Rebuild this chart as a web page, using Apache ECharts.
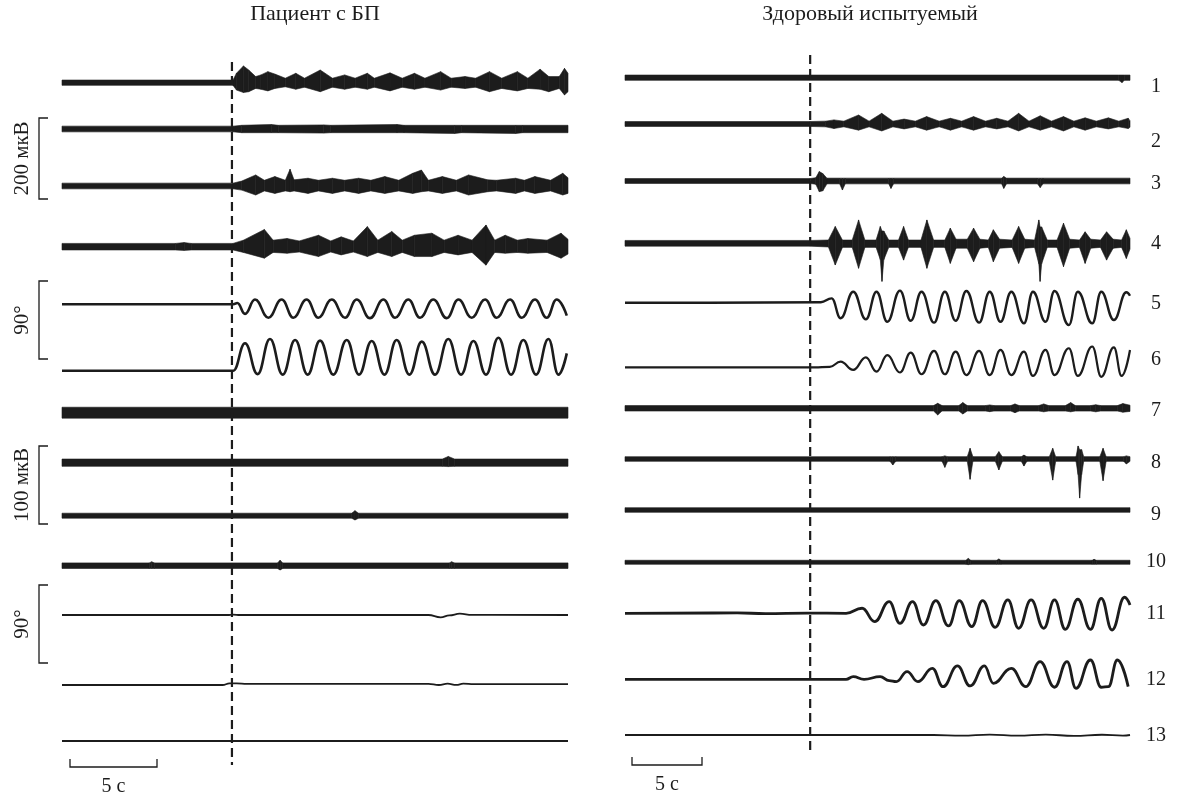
<!DOCTYPE html>
<html><head><meta charset="utf-8">
<script src="https://cdn.jsdelivr.net/npm/echarts@6/dist/echarts.min.js"></script>
<style>html,body{margin:0;padding:0;background:#fff}#c{width:1181px;height:796px}</style>
</head><body><div id="c"></div>
<script>
// ---------- time ----------
const leftDuration = 29;   // s, patient panel
const rightDuration = 36;  // s, healthy subject panel
const leftOnset = 9.74;    // s, onset of movement (dashed line)
const rightOnset = 13.2;

const titles = ['Пациент с БП', 'Здоровый испытуемый'];
const traceNumbers = ['1','2','3','4','5','6','7','8','9','10','11','12','13'];
const scaleLabels = ['200 мкВ', '90°', '100 мкВ', '90°'];
const timeScaleLabel = '5 с';

// ---------- EMG envelopes: [t (s), upper (µV), lower (µV)] ----------
const pdEmg1 = [[0,6.5,-6.5],[9.8,6.5,-6.5],[10.0,23,-18],[10.4,41,-24],[10.7,31,-22],[11.1,15,-14],[11.4,19,-16],[11.8,27,-20],[12.2,21,-14],[12.8,11,-10],[13.4,23,-16],[13.9,11,-11],[14.8,31,-22],[15.5,11,-11],[16.2,19,-16],[16.8,11,-11],[17.5,23,-16],[17.9,11,-11],[18.8,24,-20],[19.5,11,-11],[20.2,23,-16],[20.8,11,-11],[21.7,27,-18],[22.3,11,-11],[23.1,15,-14],[23.7,11,-11],[24.5,27,-22],[25.2,11,-14],[26.1,27,-20],[26.7,11,-14],[27.4,33,-16],[27.9,15,-22],[28.5,15,-14],[28.8,35,-30],[29.0,23,-22]];
const pdEmg2 = [[0,7,-7],[9.8,7,-7],[10.3,9,-9],[12.0,11,-9],[12.4,9,-9],[15.0,10,-10],[15.4,9,-9],[19.2,11,-9],[19.6,9,-9],[22.5,9,-11],[22.9,9,-9],[26.0,9,-11],[26.4,9,-9],[29,9,-9]];
const pdEmg3 = [[0,7,-7],[9.8,7,-7],[10.3,12,-10],[11.1,27,-22],[11.6,14,-12],[12.2,23,-18],[12.8,14,-12],[13.07,41,-14],[13.3,15,-12],[14.1,19,-18],[14.7,14,-12],[15.5,19,-18],[16.2,14,-12],[17.0,19,-18],[17.7,14,-12],[18.5,23,-18],[19.3,14,-12],[20.1,31,-18],[20.6,39,-14],[21.0,14,-12],[21.8,23,-18],[22.6,14,-12],[23.3,27,-22],[24.4,15,-14],[24.9,14,-12],[26.0,19,-18],[26.5,14,-12],[27.1,23,-18],[28.0,14,-12],[28.7,31,-22],[29,20,-18]];
const pdEmg4 = [[0,8,-8],[6.5,8,-8],[7.0,10,-9],[7.4,8,-8],[9.8,8,-8],[10.4,16,-14],[11.6,42,-28],[12.1,16,-14],[12.9,20,-16],[13.6,14,-13],[14.7,28,-24],[15.4,14,-13],[16.0,24,-20],[16.7,14,-13],[17.5,49,-24],[18.1,16,-14],[18.9,37,-24],[19.5,16,-14],[20.2,28,-24],[21.2,33,-24],[21.9,16,-14],[22.7,28,-20],[23.5,16,-14],[24.3,53,-45],[24.8,16,-14],[25.4,28,-16],[26.1,16,-14],[26.7,20,-16],[27.8,16,-14],[28.6,33,-28],[29,18,-18]];
const pdEmg7 = [[0,7,-7],[29,7,-7]];
const pdEmg8 = [[0,4.7,-4.7],[21.8,4.7,-4.7],[22.14,8,-5],[22.5,4.7,-4.7],[29,4.7,-4.7]];
const pdEmg9 = [[0,3.2,-3.2],[16.6,3.2,-3.2],[16.79,6.4,-5.5],[17.0,3.2,-3.2],[29,3.2,-3.2]];
const pdEmg10 = [[0,3.6,-3.6],[5.0,3.6,-3.6],[5.14,5,-3.6],[5.3,3.6,-3.6],[12.35,3.6,-3.6],[12.5,7,-5.5],[12.65,3.6,-3.6],[22.2,3.6,-3.6],[22.33,5,-3.6],[22.5,3.6,-3.6],[29,3.6,-3.6]];

const hEmg1 = [[0,6.5,-6.5],[35.2,6.5,-6.5],[35.43,6.5,-12],[35.6,6.5,-6.5],[36,6.5,-6.5]];
const hEmg2 = [[0,6,-6],[13.2,6,-6],[14.3,7,-7],[14.9,10,-11],[15.6,7,-7],[16.65,22,-15],[17.4,7,-7],[18.3,26,-17],[19.1,7,-7],[19.9,12,-12],[20.7,7,-7],[21.5,18,-15],[22.4,7,-7],[23.2,14,-15],[24.0,7,-7],[24.85,18,-15],[25.7,7,-7],[26.5,14,-12],[27.3,7,-7],[28.06,26,-17],[28.8,7,-7],[29.6,20,-15],[30.4,7,-7],[31.26,18,-17],[32.0,7,-7],[32.8,15,-15],[33.6,7,-7],[34.46,15,-12],[35.2,7,-7],[35.87,14,-11],[36,8,-8]];
const hEmg3 = [[0,6,-6],[13.2,6,-6],[13.6,8,-8],[13.85,23,-26],[14.1,18,-24],[14.4,7,-7],[15.3,7,-7],[15.5,7,-22],[15.7,7,-7],[18.8,7,-7],[18.96,7,-18],[19.15,7,-7],[26.85,7,-7],[27.0,11,-18],[27.2,7,-7],[29.4,7,-7],[29.6,7,-16],[29.8,7,-7],[36,7,-7]];
const hEmg4 = [[0,7,-7],[13.2,7,-7],[14.5,8,-9],[14.99,41,-53],[15.5,8,-10],[16.2,8,-10],[16.65,57,-61],[17.1,8,-10],[17.9,8,-10],[18.2,41,-40],[18.32,30,-93],[18.45,30,-40],[18.8,8,-10],[19.5,8,-10],[19.86,41,-41],[20.2,8,-10],[21.1,8,-10],[21.52,57,-61],[22.0,8,-10],[22.8,8,-10],[23.19,37,-49],[23.6,10,-12],[24.4,10,-12],[24.85,37,-45],[25.3,10,-12],[25.9,8,-10],[26.26,33,-45],[26.7,10,-12],[27.6,8,-10],[28.06,41,-49],[28.5,10,-12],[29.2,8,-10],[29.5,57,-50],[29.59,40,-93],[29.7,40,-50],[30.1,8,-10],[30.8,8,-10],[31.26,49,-57],[31.7,10,-12],[32.4,8,-10],[32.8,28,-49],[33.2,10,-12],[33.9,8,-10],[34.33,28,-41],[34.8,10,-12],[35.4,8,-10],[35.74,33,-37],[36,12,-14]];
const hEmg7 = [[0,3.5,-3.5],[22.0,3.5,-3.5],[22.29,6.4,-8.5],[22.6,3.5,-3.5],[23.8,3.5,-3.5],[24.08,7.3,-7.3],[24.4,3.5,-3.5],[25.7,3.5,-3.5],[26.0,4.3,-4.3],[26.3,3.5,-3.5],[27.5,3.5,-3.5],[27.8,5.6,-5.6],[28.1,3.5,-3.5],[29.5,3.5,-3.5],[29.85,5.6,-4.5],[30.2,3.5,-3.5],[31.4,3.5,-3.5],[31.77,7.3,-4.5],[32.1,3.5,-3.5],[33.2,3.5,-3.5],[33.56,4.5,-4.5],[33.9,3.5,-3.5],[35.1,3.5,-3.5],[35.49,6,-5],[36,4,-4]];
const hEmg8 = [[0,3,-3],[18.9,3,-3],[19.09,3,-7.7],[19.3,3,-3],[22.6,3,-3],[22.8,4,-10.7],[23.0,3,-3],[24.4,3,-3],[24.6,13.7,-26],[24.8,3,-3],[26.4,3,-3],[26.65,9.4,-14],[26.9,3,-3],[28.25,3,-3],[28.44,5,-9],[28.65,3,-3],[30.25,3,-3],[30.49,13.7,-27],[30.7,3,-3],[32.15,3,-3],[32.3,16.7,-20],[32.41,12,-50],[32.55,12,-20],[32.7,3,-3],[33.85,3,-3],[34.08,13.7,-27.8],[34.3,3,-3],[35.55,3,-3],[35.74,4,-6.4],[36,3,-3]];
const hEmg9 = [[0,3,-3],[36,3,-3]];
const hEmg10 = [[0,2.6,-2.6],[24.3,2.6,-2.6],[24.47,5,-3],[24.65,2.6,-2.6],[26.5,2.6,-2.6],[26.65,4.3,-2.6],[26.8,2.6,-2.6],[33.3,2.6,-2.6],[33.44,3.8,-2.6],[33.6,2.6,-2.6],[36,2.6,-2.6]];

// ---------- joint angles: [t (s), angle (deg)] ----------
const pdAngle5 = [[0,0],[5,0],[9.82,0],[10.05,1.5],[10.49,-11],[11.06,5.5],[11.83,-15.5],[12.59,5.5],[13.26,-15.5],[14.02,5.5],[14.69,-15.5],[15.46,5.5],[16.22,-15.5],[16.89,5.5],[17.65,-16],[18.42,5.5],[19.09,-15.5],[19.85,5.5],[20.52,-15.5],[21.28,5.5],[22.05,-16],[22.72,5.5],[23.48,-15.5],[24.25,5.5],[24.91,-15.5],[25.68,5.5],[26.35,-15.5],[27.11,5.5],[27.78,-15.5],[28.35,5.5],[28.93,-13]];
const pdAngle6 = [[0,0],[5,0],[9.82,0],[10.49,31.6],[11.21,-3.9],[11.92,36.6],[12.65,-4.5],[13.36,35.4],[14.08,-4.5],[14.79,34.7],[15.55,-4.5],[16.32,35.4],[17.02,-4.5],[17.75,34.3],[18.48,-4.5],[19.18,35.4],[19.91,-4.5],[20.62,33.5],[21.38,-4.5],[22.14,36.6],[22.87,-4.5],[23.58,34.3],[24.30,-4.5],[25.01,38.1],[25.74,-4.5],[26.44,35.4],[27.17,-4.5],[27.88,36.6],[28.45,-4.5],[28.93,20]];
const pdAngle11 = [[0,0],[9.5,0],[9.8,0.4],[10.2,0],[21.0,0],[21.7,-2.8],[22.2,-0.5],[22.8,1.5],[23.5,0.2],[29,0]];
const pdAngle12 = [[0,0],[9.2,0],[9.6,1.8],[10.0,1.8],[10.6,1.2],[21.0,1.2],[21.6,0],[22.1,1.5],[22.6,0.2],[23.0,1.5],[23.6,1.0],[29,1.0]];
const pdAngle13 = [[0,0],[29,0]];

const hAngle5 = [[0,0],[6,0],[13.96,0.5],[14.73,5],[15.37,-18],[16.27,12.7],[17.17,-19.2],[17.93,12.7],[18.7,-22],[19.6,13.9],[20.37,-20.8],[21.14,12.7],[22.03,-23],[22.8,12.7],[23.57,-20.8],[24.34,13.5],[25.24,-23],[26.0,12.7],[26.77,-22],[27.54,12.7],[28.44,-23.9],[29.08,12.7],[29.98,-22],[30.62,13.5],[31.64,-25.8],[32.28,12.7],[33.31,-23.9],[33.95,12.7],[34.85,-20],[35.74,12],[36,8]];
const hAngle6 = [[0,0],[13.5,0],[14.6,0.5],[15.37,6.5],[16.27,-3],[17.17,11.5],[17.93,-5],[18.7,14],[19.6,-6],[20.37,17],[21.14,-8],[22.03,19],[22.8,-8],[23.57,18],[24.34,-9],[25.24,19],[26.0,-9],[26.77,20],[27.54,-9],[28.44,18],[29.08,-10],[29.98,20],[30.62,-9],[31.64,22],[32.28,-10],[33.31,24],[33.95,-11],[34.85,23],[35.4,-10],[36,20]];
const hAngle11 = [[0,0],[8,0.4],[10,-0.3],[13,0.3],[15.76,0],[16.9,5.8],[17.8,-9.6],[18.83,13.5],[19.6,-11.6],[20.5,13.5],[21.27,-13.5],[22.16,14.6],[23.06,-14.6],[23.83,14.6],[24.72,-15.4],[25.49,14.6],[26.39,-16.2],[27.29,15.4],[28.06,-17.3],[28.95,15.4],[29.85,-17.3],[30.62,15.4],[31.39,-18.5],[32.28,16.2],[33.18,-18.5],[33.95,17.3],[34.72,-19.3],[35.61,18.5],[36,9.6]];
const hAngle12 = [[0,0],[15.76,0],[16.27,3],[17.04,0],[18.19,3],[18.83,-1.5],[19.34,-2.7],[20.11,8.9],[20.88,-2.7],[21.91,12.7],[22.67,-8.5],[23.7,15.4],[24.6,-7.7],[25.62,15.4],[26.26,-4.6],[27.54,12.7],[28.57,-8.5],[29.59,20.4],[30.62,-9.2],[31.51,20.4],[32.15,-10.4],[33.18,22.3],[33.95,-9.2],[34.46,-8.5],[35.1,22.3],[35.87,-8.5]];
const hAngle13 = [[0,0],[22,0],[24,-0.8],[26,0.5],[28,-0.8],[30,0.4],[32,-1],[34,0.3],[35.5,-0.8],[36,0]];

// ---------- layout ----------
const INK = '#1c1c1c';
const FONT = '"Liberation Serif", "DejaVu Serif", serif';
const EMG_HI = 2.44, EMG_LO = 1.28, ANG = 1.154; // units per pixel
const panels = {
  L: {left: 62, width: 506, dur: leftDuration, onset: leftOnset, top: 62, bottom: 765},
  R: {left: 625, width: 505, dur: rightDuration, onset: rightOnset, top: 55, bottom: 752}
};
const traces = [
  {p:'L', cy:82.7, k:'emg', u:EMG_HI, d:pdEmg1},
  {p:'L', cy:129, k:'emg', u:EMG_HI, d:pdEmg2},
  {p:'L', cy:186, k:'emg', u:EMG_HI, d:pdEmg3},
  {p:'L', cy:246.7, k:'emg', u:EMG_HI, d:pdEmg4},
  {p:'L', cy:304.3, k:'ang', u:ANG, d:pdAngle5, w:2.6},
  {p:'L', cy:370.7, k:'ang', u:ANG, d:pdAngle6, w:2.6},
  {p:'L', cy:412.7, k:'emg', u:EMG_LO, d:pdEmg7},
  {p:'L', cy:462.7, k:'emg', u:EMG_LO, d:pdEmg8},
  {p:'L', cy:515.7, k:'emg', u:EMG_LO, d:pdEmg9},
  {p:'L', cy:565.7, k:'emg', u:EMG_LO, d:pdEmg10},
  {p:'L', cy:615, k:'ang', u:ANG, d:pdAngle11, w:1.8},
  {p:'L', cy:685, k:'ang', u:ANG, d:pdAngle12, w:1.8},
  {p:'L', cy:741, k:'ang', u:ANG, d:pdAngle13, w:1.8},
  {p:'R', cy:77.7, k:'emg', u:EMG_HI, d:hEmg1},
  {p:'R', cy:124, k:'emg', u:EMG_HI, d:hEmg2},
  {p:'R', cy:181, k:'emg', u:EMG_HI, d:hEmg3},
  {p:'R', cy:243.3, k:'emg', u:EMG_HI, d:hEmg4},
  {p:'R', cy:302.7, k:'ang', u:ANG, d:hAngle5, w:2.4},
  {p:'R', cy:367.3, k:'ang', u:ANG, d:hAngle6, w:2.2},
  {p:'R', cy:408.3, k:'emg', u:EMG_LO, d:hEmg7},
  {p:'R', cy:459, k:'emg', u:EMG_LO, d:hEmg8},
  {p:'R', cy:510, k:'emg', u:EMG_LO, d:hEmg9},
  {p:'R', cy:562.3, k:'emg', u:EMG_LO, d:hEmg10},
  {p:'R', cy:613.3, k:'ang', u:ANG, d:hAngle11, w:2.8},
  {p:'R', cy:679.3, k:'ang', u:ANG, d:hAngle12, w:2.8},
  {p:'R', cy:735, k:'ang', u:ANG, d:hAngle13, w:1.8}
];
const numberY = [87,142,184,244,304,360,411,463,515,562,614,680,736];

const grid = [], xAxis = [], yAxis = [], series = [];
traces.forEach((tr, i) => {
  const P = panels[tr.p];
  grid.push({left: P.left, width: P.width, top: tr.cy - 50, height: 100});
  xAxis.push({gridIndex: i, type: 'value', min: 0, max: P.dur, show: false});
  yAxis.push({gridIndex: i, type: 'value', min: -50 * tr.u, max: 50 * tr.u, show: false});
  if (tr.k === 'emg') {
    const arr = tr.d;
    series.push({
      type: 'custom', xAxisIndex: i, yAxisIndex: i, clip: false, silent: true,
      data: arr,
      encode: {x: 0, y: [1, 2]},
      renderItem: function (params, api) {
        const j = params.dataIndex;
        if (j >= arr.length - 1) return null;
        const a = arr[j], b = arr[j + 1];
        const pts = [api.coord([a[0], a[1]]), api.coord([b[0], b[1]]), api.coord([b[0], b[2]]), api.coord([a[0], a[2]])];
        return {type: 'polygon', shape: {points: pts}, style: {fill: INK, stroke: INK, lineWidth: 0.6}};
      }
    });
  } else {
    series.push({
      type: 'line', xAxisIndex: i, yAxisIndex: i, data: tr.d, showSymbol: false, clip: false,
      smooth: 0.45, smoothMonotone: 'x', silent: true,
      lineStyle: {color: INK, width: tr.w, cap: 'butt', join: 'round'}
    });
  }
});
// panel-wide grids for the movement onset lines
['L', 'R'].forEach((key) => {
  const P = panels[key];
  const gi = grid.length;
  grid.push({left: P.left, width: P.width, top: P.top, height: P.bottom - P.top});
  xAxis.push({gridIndex: gi, type: 'value', min: 0, max: P.dur, show: false});
  yAxis.push({gridIndex: gi, type: 'value', min: 0, max: 1, show: false});
  series.push({
    type: 'custom', xAxisIndex: gi, yAxisIndex: gi, clip: false, silent: true,
    data: [[P.onset]], encode: {x: 0},
    renderItem: function (params, api) {
      const p = api.coord([api.value(0), 0]);
      const cs = params.coordSys;
      return {type: 'line', shape: {x1: p[0], y1: cs.y, x2: p[0], y2: cs.y + cs.height},
        style: {stroke: INK, lineWidth: 2.2, lineDash: [9, 5]}};
    }
  });
});

const graphic = [];
const txt = (s, x, y, size, rot) => graphic.push({type: 'text', x: x, y: y, rotation: rot || 0, silent: true,
  style: {text: s, font: size + 'px ' + FONT, fill: INK, textAlign: 'center', textVerticalAlign: 'middle'}});
txt(titles[0], 315, 14, 22);
txt(titles[1], 870, 14, 22);
traceNumbers.forEach((n, i) => txt(n, 1156, numberY[i], 20));
// amplitude scale brackets
const brackets = [[118, 199], [281, 359], [446, 524], [585, 663]];
brackets.forEach((b, i) => {
  graphic.push({type: 'polyline', silent: true, shape: {points: [[48, b[0]], [39, b[0]], [39, b[1]], [48, b[1]]]},
    style: {stroke: INK, lineWidth: 1.3, fill: null}});
  txt(scaleLabels[i], 22, (b[0] + b[1]) / 2, 21, Math.PI / 2);
});
// time scale bars
[[70, 157, 767, 759], [632, 702, 765, 757]].forEach((s) => {
  graphic.push({type: 'polyline', silent: true, shape: {points: [[s[0], s[3]], [s[0], s[2]], [s[1], s[2]], [s[1], s[3]]]},
    style: {stroke: INK, lineWidth: 1.3, fill: null}});
  txt(timeScaleLabel, (s[0] + s[1]) / 2, s[2] + 20, 20);
});

const chart = echarts.init(document.getElementById('c'), null, {renderer: 'canvas'});
chart.setOption({animation: false, backgroundColor: '#fff', grid, xAxis, yAxis, series, graphic});
</script></body></html>
